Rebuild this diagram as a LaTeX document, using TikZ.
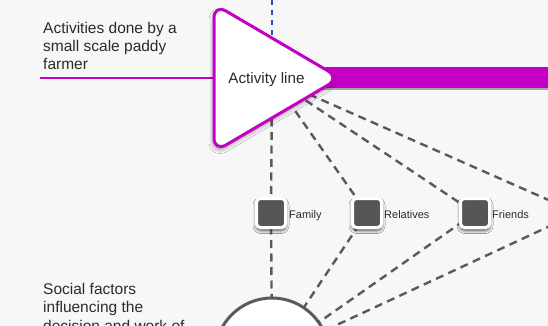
\documentclass[tikz,border=0pt]{standalone}
\usepackage{fontspec}
\setmainfont{Liberation Sans}
\usetikzlibrary{shadows.blur}
\definecolor{bg}{HTML}{F7F7F7}
\definecolor{mag}{HTML}{C400C4}
\definecolor{ink}{HTML}{2B2B2B}
\definecolor{dgray}{HTML}{5A5A5A}
\definecolor{sqfill}{HTML}{565656}
\definecolor{tblue}{HTML}{2A4CC0}
\tikzset{
  link/.style={draw=dgray, line width=2.4pt, dash pattern=on 8pt off 5.5pt},
  timeline/.style={draw=tblue, line width=2pt, dash pattern=on 5pt off 5pt},
  member/.style={rectangle, draw=white, line width=3pt, fill=sqfill,
    minimum size=29pt, inner sep=0pt, rounded corners=4pt,
    blur shadow={shadow xshift=0pt, shadow yshift=-2.5pt,
      shadow blur radius=3.5pt, shadow opacity=45}},
  memberlabel/.style={anchor=base west, inner sep=0pt, text=ink,
    font=\fontsize{11}{13}\selectfont},
  % multi-line text nodes: the base anchor sits on the last line
  heading/.style={anchor=base west, align=left, inner sep=0pt, text=ink,
    font=\fontsize{15.5}{18.3}\selectfont},
}
\begin{document}
\begin{tikzpicture}[x=1pt, y=-1pt]
  % canvas
  \fill[bg] (0,0) rectangle (548,326);
  \useasboundingbox (0,0) rectangle (548,326);

  % anchor points
  \coordinate (top) at (272,0);
  \coordinate (hub) at (272,78);
  \coordinate (more) at (578,213);

  % vertical time marker
  \draw[timeline] (top) -- (hub);

  % social group nodes
  \node[member] (family) at (271,213) {};
  \node[member] (relatives) at (367,213) {};
  \node[member] (friends) at (475,213) {};
  \node[circle, minimum size=114pt, inner sep=0pt] (social) at (272,355) {};

  % links from the activity line to the groups and on to the factors
  \draw[link] (hub) -- (family.center);
  \draw[link] (hub) -- (relatives.center);
  \draw[link] (hub) -- (friends.center);
  \draw[link] (hub) -- (more);
  \draw[link] (family.center) -- (social.center);
  \draw[link] (relatives.center) -- (social.center);
  \draw[link] (friends.center) -- (social.center);
  \draw[link] (more) -- (social.center);

  % redraw squares above the links
  \node[member] at (family) {};
  \node[member] at (relatives) {};
  \node[member] at (friends) {};

  % activity line
  \draw[mag, line width=2.5pt] (40,78) -- (214,78);
  \fill[gray!70] (320,69) rectangle (548,90);
  \fill[mag] (320,67) rectangle (548,88);

  % arrow head carrying the label
  \draw[mag, line width=3pt, fill=white, rounded corners=14pt,
    blur shadow={shadow xshift=-1pt, shadow yshift=-3pt,
      shadow blur radius=4pt, shadow opacity=40}]
    (214,78) -- (214,4) -- (340,78) -- (214,152) -- cycle;
  \node[anchor=base, inner sep=0pt, text=ink,
    font=\fontsize{15.2}{18}\selectfont] (actline) at (266.5,84) {Activity line};

  % social factors circle
  \draw[dgray, line width=3pt, fill=white] (social.center) circle[radius=57pt];

  % labels
  \node[memberlabel] (lfamily) at (289,218) {Family};
  \node[memberlabel] (lrelatives) at (384,218) {Relatives};
  \node[memberlabel] (lfriends) at (492,218) {Friends};

  \node[heading] (acts) at (43,70) {Activities done by a\\small scale paddy\\farmer};
  \node[heading] (factors) at (43,331) {Social factors\\influencing the\\decision and work of};
\end{tikzpicture}
\end{document}
